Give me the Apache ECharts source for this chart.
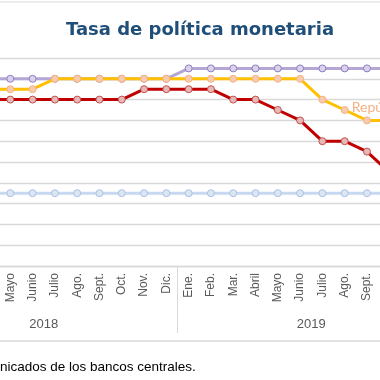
<!DOCTYPE html>
<html><head><meta charset="utf-8">
<script src="https://cdn.jsdelivr.net/npm/echarts@6/dist/echarts.min.js"></script>
<style>html,body{margin:0;padding:0;background:#fff;overflow:hidden;width:380px;height:380px;position:relative}
#c{position:absolute;left:-90px;top:0;width:535px;height:380px}</style>
</head><body><div id="c"></div>
<script>
var months = ['Ene.','Feb.','Mar.','Abril','Mayo','Junio','Julio','Ago.','Sept.','Oct.','Nov.','Dic.',
              'Ene.','Feb.','Mar.','Abril','Mayo','Junio','Julio','Ago.','Sept.','Oct.','Nov.','Dic.'];
var years = ['2018','2019'];
var purple = [5.5,5.5,5.5,5.5,5.5,5.5,5.5,5.5,5.5,5.5,5.5,5.5, 5.75,5.75,5.75,5.75,5.75,5.75,5.75,5.75,5.75,5.75,5.75,5.75];
var dominicana = [5.25,5.25,5.25,5.25,5.25,5.25,5.5,5.5,5.5,5.5,5.5,5.5, 5.5,5.5,5.5,5.5,5.5,5.5,5.0,4.75,4.5,4.5,4.5,4.5];
var red = [5.0,5.0,5.0,5.0,5.0,5.0,5.0,5.0,5.0,5.0,5.25,5.25, 5.25,5.25,5.0,5.0,4.75,4.5,4.0,4.0,3.75,3.25,3.0,2.75];
var blue = [2.75,2.75,2.75,2.75,2.75,2.75,2.75,2.75,2.75,2.75,2.75,2.75, 2.75,2.75,2.75,2.75,2.75,2.75,2.75,2.75,2.75,2.75,2.75,2.75];
var domLabel = 'República Dominicana';
var domLabelIndex = 19;

var SHIFT = 90;
var chart = echarts.init(document.getElementById('c'));
function mk(name, data, line, fill, border, z) {
  return {
    name: name, type: 'line', data: data, z: z,
    symbol: 'circle', symbolSize: 7,
    lineStyle: { color: line, width: 3 },
    itemStyle: { color: fill, borderColor: border, borderWidth: 1 },
    emphasis: { disabled: true }
  };
}
var domData = dominicana.map(function (v, i) {
  if (i === domLabelIndex) {
    return { value: v, label: { show: true, position: 'right', distance: 3, offset: [0, -3],
      formatter: domLabel, color: '#F4B183', fontSize: 14, fontFamily: 'Lato' } };
  }
  return v;
});
chart.setOption({
  animation: false,
  title: { text: 'Tasa de política monetaria', left: 195 + SHIFT, textAlign: 'center', top: 16,
    textStyle: { color: '#1F4E79', fontSize: 18, fontWeight: 'bold', fontFamily: 'DejaVu Sans' } },
  grid: { left: 0, right: 0, top: 58, bottom: 114, containLabel: false },
  xAxis: [{
    type: 'category', data: months, boundaryGap: true,
    axisLine: { lineStyle: { color: '#D9D9D9', width: 1.3 } },
    axisTick: { show: false },
    axisLabel: { rotate: 90, interval: 0, margin: 7, color: '#595959', fontSize: 12, fontFamily: 'Liberation Sans' }
  }, {
    type: 'category', data: years, boundaryGap: true, position: 'bottom', offset: 67,
    axisLine: { show: false },
    axisTick: { show: true, inside: true, length: 67, lineStyle: { color: '#D9D9D9', width: 1 } },
    axisLabel: { inside: true, margin: 2, color: '#595959', fontSize: 13, fontFamily: 'Liberation Sans' }
  }],
  yAxis: {
    type: 'value', min: 1, max: 6, interval: 0.5,
    axisLabel: { show: false }, axisLine: { show: false }, axisTick: { show: false },
    splitLine: { lineStyle: { color: '#D9D9D9', width: 1.3 } }
  },
  graphic: [
    { type: 'line', shape: { x1: SHIFT, y1: 341, x2: SHIFT + 380, y2: 341 }, style: { stroke: '#D9D9D9', lineWidth: 1.3 } },
    { type: 'line', shape: { x1: SHIFT, y1: 2, x2: SHIFT + 380, y2: 2 }, style: { stroke: '#D9D9D9', lineWidth: 1 } },
    { type: 'text', left: SHIFT, top: 360, style: { text: 'nicados de los bancos centrales.', fill: '#000', fontSize: 13.5, fontFamily: 'Liberation Sans' } }
  ],
  series: [
    mk('Guatemala', blue, '#C6D9F1', '#DCE6F2', '#A9C1E6', 2),
    mk('Honduras', purple, '#B4A7D6', '#D9D2E9', '#8E7CC3', 3),
    mk('Costa Rica', red, '#C00000', '#E6B8B7', '#C0504D', 4),
    mk('República Dominicana', domData, '#FFC000', '#F8CBAD', '#F4B183', 5)
  ]
});
</script></body></html>
